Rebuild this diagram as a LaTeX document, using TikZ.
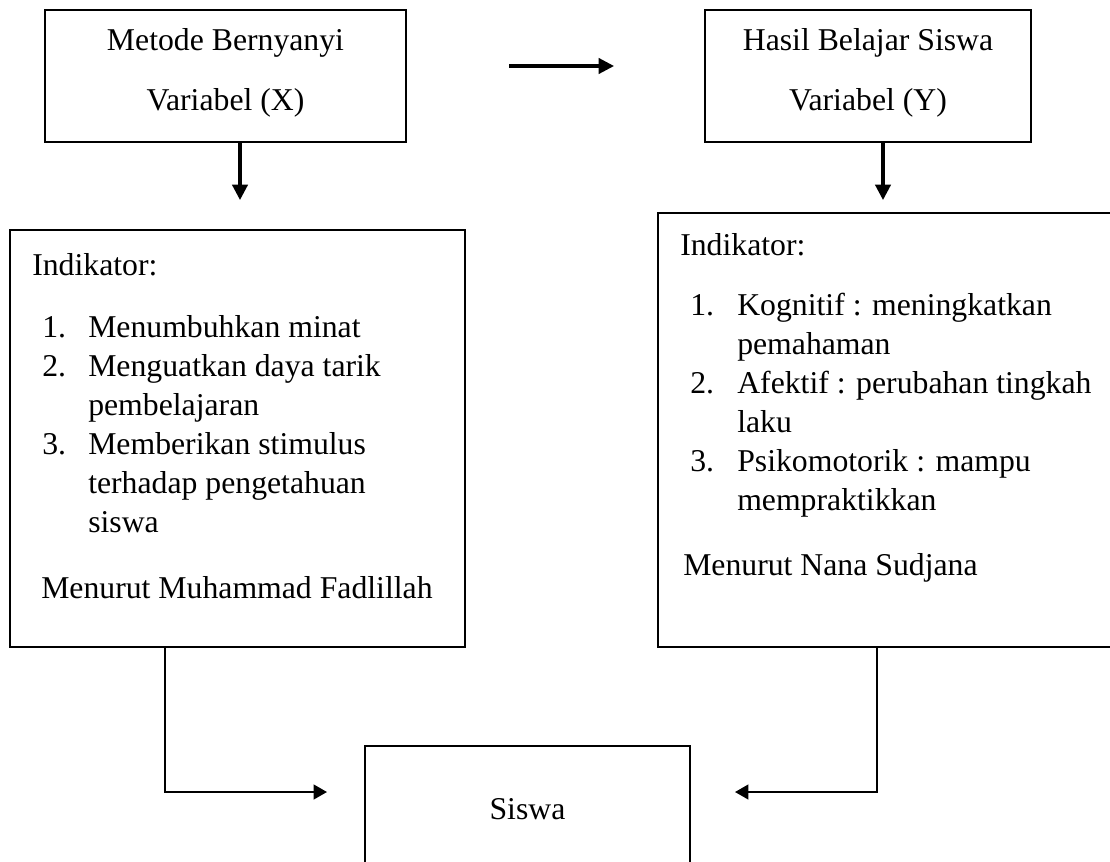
\documentclass[tikz,border=0pt]{standalone}
\usepackage{fontspec}
\setmainfont{Liberation Serif}
\usetikzlibrary{arrows.meta}
\begin{document}
\begin{tikzpicture}[x=0.75pt,y=-0.75pt,
  box/.style={draw=black, line width=1.7pt, inner sep=0pt, rectangle},
  txt/.style={inner sep=0pt, anchor=base west, font=\fontsize{23.8}{28}\selectfont},
  ctxt/.style={txt, anchor=base},
  thickarrow/.style={line width=2.3pt, -{Triangle[length=11.5pt,width=11.5pt]}},
  connarrow/.style={line width=1.6pt, -{Triangle[length=10pt,width=11pt]}}]
\useasboundingbox (0,0) rectangle (1110,861);
\fill[white] (0,0) rectangle (1110,861);

% boxes
\node[box, minimum width=361*0.75pt, minimum height=132*0.75pt] (bx) at (225.5,76) {};
\node[box, minimum width=326*0.75pt, minimum height=132*0.75pt] (by) at (868,76) {};
\node[box, minimum width=455*0.75pt, minimum height=417*0.75pt] (il) at (237.5,438.5) {};
\node[box, minimum width=458*0.75pt, minimum height=434*0.75pt] (ir) at (887,430) {};
\node[box, minimum width=325*0.75pt, minimum height=140*0.75pt] (sw) at (527.5,816) {};

% texts of top boxes
\node[ctxt] (bx1) at (225.5,50) {Metode Bernyanyi};
\node[ctxt] (bx2) at (225.5,110) {Variabel (X)};
\node[ctxt] (by1) at (868,50) {Hasil Belajar Siswa};
\node[ctxt] (by2) at (868,110) {Variabel (Y)};

% left indicator box
\node[txt] (l0) at (32,275) {Indikator:};
\node[txt] (ln1) at (42,337) {1.};
\node[txt] (l1) at (88,337) {Menumbuhkan minat};
\node[txt] (ln2) at (42,376) {2.};
\node[txt] (l2) at (88,376) {Menguatkan daya tarik};
\node[txt] (l2b) at (88,415) {pembelajaran};
\node[txt] (ln3) at (42,454) {3.};
\node[txt] (l3) at (88,454) {Memberikan stimulus};
\node[txt] (l3b) at (88,493) {terhadap pengetahuan};
\node[txt] (l3c) at (88,532) {siswa};
\node[txt] (lm) at (41,598) {Menurut Muhammad Fadlillah};

% right indicator box
\node[txt] (r0) at (680,255) {Indikator:};
\node[txt] (rn1) at (690,315) {1.};
\node[txt] (r1) at (737,315) {Kognitif : meningkatkan};
\node[txt] (r1b) at (737,354) {pemahaman};
\node[txt] (rn2) at (690,393) {2.};
\node[txt] (r2) at (737,393) {Afektif : perubahan tingkah};
\node[txt] (r2b) at (737,432) {laku};
\node[txt] (rn3) at (690,471) {3.};
\node[txt] (r3) at (737,471) {Psikomotorik : mampu};
\node[txt] (r3b) at (737,510) {mempraktikkan};
\node[txt] (rm) at (683,575) {Menurut Nana Sudjana};

% bottom box text
\node[ctxt] (swt) at (527.5,819) {Siswa};

% arrows
\coordinate (h1) at (509,66);
\coordinate (h2) at (614,66);
\draw[thickarrow] (h1) -- (h2);

\coordinate (tx) at (240,200);
\draw[thickarrow] (bx.south -| tx) -- (tx);
\coordinate (ty) at (883,200);
\draw[thickarrow] (by.south -| ty) -- (ty);

\coordinate (tl) at (327,792);
\coordinate (cl) at (165,0);
\draw[connarrow] (il.south -| cl) |- (tl);
\coordinate (tr) at (735,792);
\coordinate (cr) at (877,0);
\draw[connarrow] (ir.south -| cr) |- (tr);
\end{tikzpicture}
\end{document}
